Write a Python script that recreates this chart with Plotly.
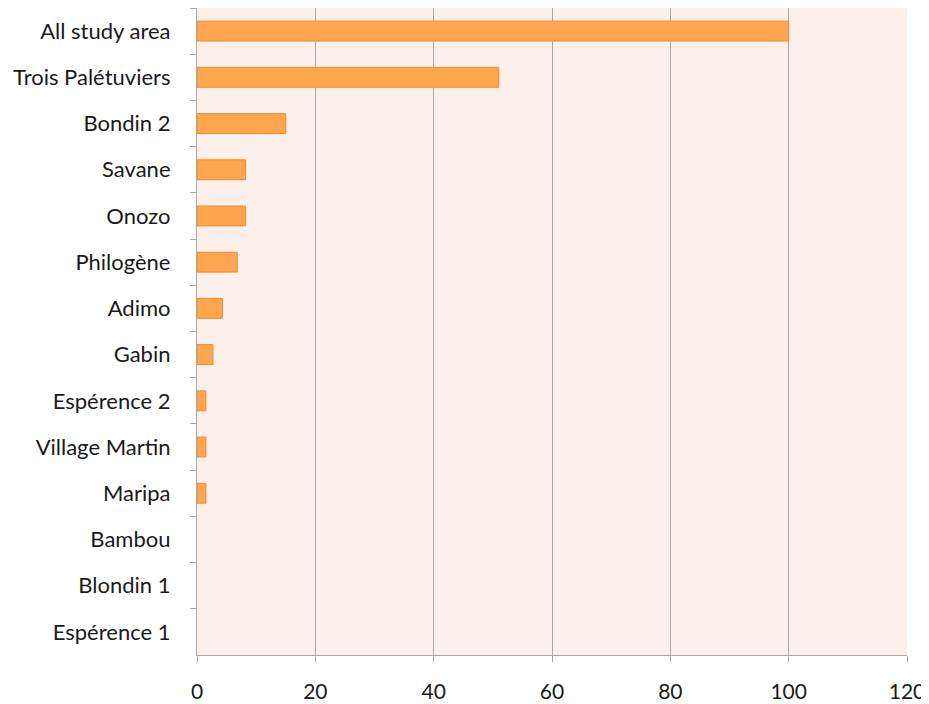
import plotly.graph_objects as go

categories = ["All study area", "Trois Palétuviers", "Bondin 2", "Savane", "Onozo",
              "Philogène", "Adimo", "Gabin", "Espérence 2", "Village Martin",
              "Maripa", "Bambou", "Blondin 1", "Espérence 1"]
values = [100, 51, 15, 8.2, 8.2, 6.8, 4.3, 2.7, 1.5, 1.5, 1.5, 0, 0, 0]
x_ticks = [0, 20, 40, 60, 80, 100, 120]

fig = go.Figure(go.Bar(
    y=categories, x=values, orientation="h",
    marker=dict(color="#FFA64F",
                line=dict(color="#EE8A38", width=[1 if v > 0 else 0 for v in values])),
    width=0.43,
))

# page body adds an 8px offset, so the figure is sized to fit the window
fig.update_layout(
    width=921, height=696,
    margin=dict(l=189, r=22, t=0, b=49, autoexpand=False),
    paper_bgcolor="white", plot_bgcolor="#FDEFEA",
    font=dict(family="Lato, Open Sans, sans-serif", size=21, color="#1a1a1a"),
    showlegend=False, bargap=0.57,
)
fig.update_xaxes(
    range=[0, 120], tickvals=x_ticks, showgrid=True, gridcolor="#A8A8A8", gridwidth=1.2,
    showline=True, linecolor="#A8A8A8", linewidth=1.2,
    ticks="outside", ticklen=6, tickcolor="#A8A8A8",
    zeroline=False, ticklabelstandoff=12, automargin=False,
    tickfont=dict(size=21),
)
fig.update_yaxes(
    categoryorder="array", categoryarray=categories, autorange="reversed",
    showline=True, linecolor="#A8A8A8", linewidth=1.2,
    ticks="outside", ticklen=6, tickcolor="#A8A8A8", tickson="boundaries",
    showgrid=False, ticklabelstandoff=21, automargin=False,
    tickfont=dict(size=22),
)
fig.write_html("out.html")
